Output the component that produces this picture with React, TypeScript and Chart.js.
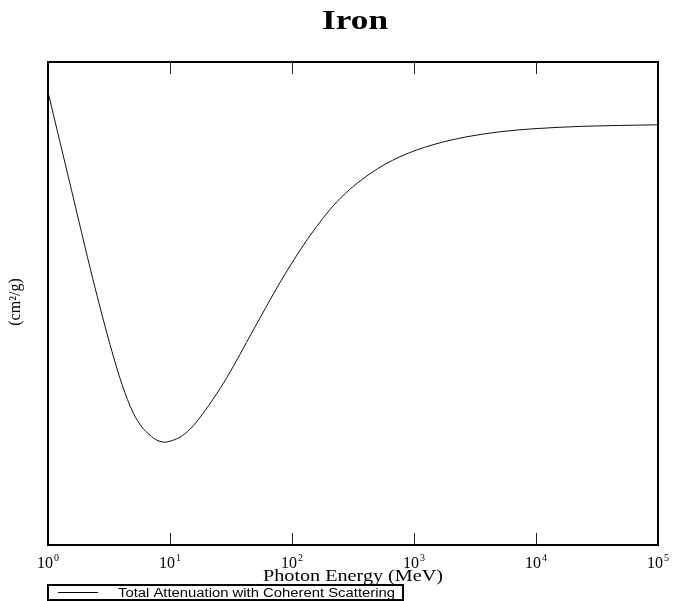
import React, { useEffect, useRef } from "react";
import { Chart, registerables } from "chart.js";

Chart.register(...registerables);

const chartTitle = "Iron";
const xAxisTitle = "Photon Energy (MeV)";
const yAxisTitle = "(cm²/g)";
const legendLabel = "Total Attenuation with Coherent Scattering";

// Photon energy (MeV)
const energies = [
  1, 1.514, 2.338, 3.223, 4.043, 4.973, 5.895, 6.856, 7.825, 9.1, 10, 12.08,
  14.58, 16.64, 22.51, 29.33, 47.89, 79.7, 104, 140.4, 233.8, 435.8, 767.9,
  1431, 2719, 5068, 9450, 24280, 100000,
];
// Total attenuation with coherent scattering (cm²/g)
const attenuation = [
  0.06006, 0.05, 0.04128, 0.03626, 0.03348, 0.03166, 0.03074, 0.03025, 0.02995,
  0.02983, 0.02989, 0.03013, 0.03061, 0.0311, 0.0325, 0.03396, 0.03728,
  0.04104, 0.04297, 0.04507, 0.04824, 0.05101, 0.05277, 0.05405, 0.05492,
  0.05547, 0.0558, 0.05608, 0.05625,
];
const xTickValues = [1, 10, 100, 1000, 10000, 100000];
const xTickExponents = ["0", "1", "2", "3", "4", "5"];
const yMin = 0.02429;
const yMax = 0.06377;

const SERIF = '"Liberation Serif", "Times New Roman", serif';
const SANS = '"Liberation Sans", Arial, sans-serif';

function stretchedText(ctx: CanvasRenderingContext2D, text: string, cx: number, y: number, width: number) {
  const w = ctx.measureText(text).width;
  ctx.save();
  ctx.translate(cx - width / 2, y);
  ctx.scale(width / w, 1);
  ctx.textAlign = "left";
  ctx.fillText(text, 0, 0);
  ctx.restore();
}

const decorPlugin = {
  id: "decor",
  afterDraw(chart: any) {
    const ctx: CanvasRenderingContext2D = chart.ctx;
    const { left, right, top, bottom } = chart.chartArea;
    const xs = chart.scales.x;
    ctx.save();

    // frame
    ctx.strokeStyle = "#000";
    ctx.lineWidth = 2;
    ctx.strokeRect(left, top, right - left, bottom - top);

    // ticks
    ctx.lineWidth = 1;
    ctx.strokeStyle = "#222";
    xTickValues.forEach((v, i) => {
      if (i === 0 || i === xTickValues.length - 1) return;
      const px = Math.round(xs.getPixelForValue(v)) + 0.5;
      ctx.beginPath();
      ctx.moveTo(px, top);
      ctx.lineTo(px, top + 12);
      ctx.moveTo(px, bottom);
      ctx.lineTo(px, bottom - 12);
      ctx.stroke();
    });

    // tick labels 10^n
    ctx.fillStyle = "#000";
    ctx.textBaseline = "alphabetic";
    xTickValues.forEach((v, i) => {
      const px = xs.getPixelForValue(v);
      ctx.font = `16px ${SERIF}`;
      const wBase = ctx.measureText("10").width;
      ctx.font = `10px ${SERIF}`;
      const wExp = ctx.measureText(xTickExponents[i]).width;
      const total = wBase + 1 + wExp;
      const x0 = px - total / 2;
      ctx.textAlign = "left";
      ctx.font = `16px ${SERIF}`;
      ctx.fillText("10", x0, bottom + 23);
      ctx.font = `10px ${SERIF}`;
      ctx.fillText(xTickExponents[i], x0 + wBase + 1, bottom + 16);
    });

    // x axis title
    ctx.font = `16px ${SERIF}`;
    stretchedText(ctx, xAxisTitle, 353, bottom + 36, 180);

    // title
    ctx.font = `bold 27px ${SERIF}`;
    stretchedText(ctx, chartTitle, 355, 29, 66);

    // y axis title (rotated)
    ctx.save();
    ctx.translate(20, 302);
    ctx.rotate(-Math.PI / 2);
    ctx.font = `16px ${SERIF}`;
    ctx.textAlign = "center";
    ctx.fillText(yAxisTitle, 0, 0);
    ctx.restore();

    // legend
    const lx = 48, ly = 585, lw = 355, lh = 15;
    ctx.lineWidth = 2;
    ctx.strokeStyle = "#000";
    ctx.strokeRect(lx, ly, lw, lh);
    ctx.lineWidth = 1;
    ctx.beginPath();
    ctx.moveTo(58, ly + 7.5);
    ctx.lineTo(98, ly + 7.5);
    ctx.stroke();
    ctx.font = `12px ${SANS}`;
    ctx.textAlign = "left";
    const tw = ctx.measureText(legendLabel).width;
    ctx.save();
    ctx.translate(118, ly + 12);
    ctx.scale(277 / tw, 1);
    ctx.fillText(legendLabel, 0, 0);
    ctx.restore();

    ctx.restore();
  },
};

export default function App() {
  const ref = useRef<HTMLCanvasElement | null>(null);
  useEffect(() => {
    if (!ref.current) return;
    const chart = new Chart(ref.current, {
      type: "line",
      data: {
        datasets: [
          {
            label: legendLabel,
            data: energies.map((e, i) => ({ x: e, y: attenuation[i] })),
            borderColor: "#111",
            borderWidth: 1,
            pointRadius: 0,
            fill: false,
            cubicInterpolationMode: "monotone",
          },
        ],
      },
      options: {
        animation: false,
        responsive: false,
        maintainAspectRatio: false,
        layout: { padding: { left: 48, top: 62, right: 16, bottom: 56 } },
        plugins: { legend: { display: false }, title: { display: false }, tooltip: { enabled: false } },
        scales: {
          x: { type: "logarithmic", min: 1, max: 100000, display: false },
          y: { type: "logarithmic", min: yMin, max: yMax, display: false },
        },
      },
      plugins: [decorPlugin],
    } as any);
    return () => chart.destroy();
  }, []);
  return (
    <div style={{ position: "fixed", left: 0, top: 0, width: 674, height: 601, background: "#fff" }}>
      <canvas ref={ref} width={674} height={601} />
    </div>
  );
}
